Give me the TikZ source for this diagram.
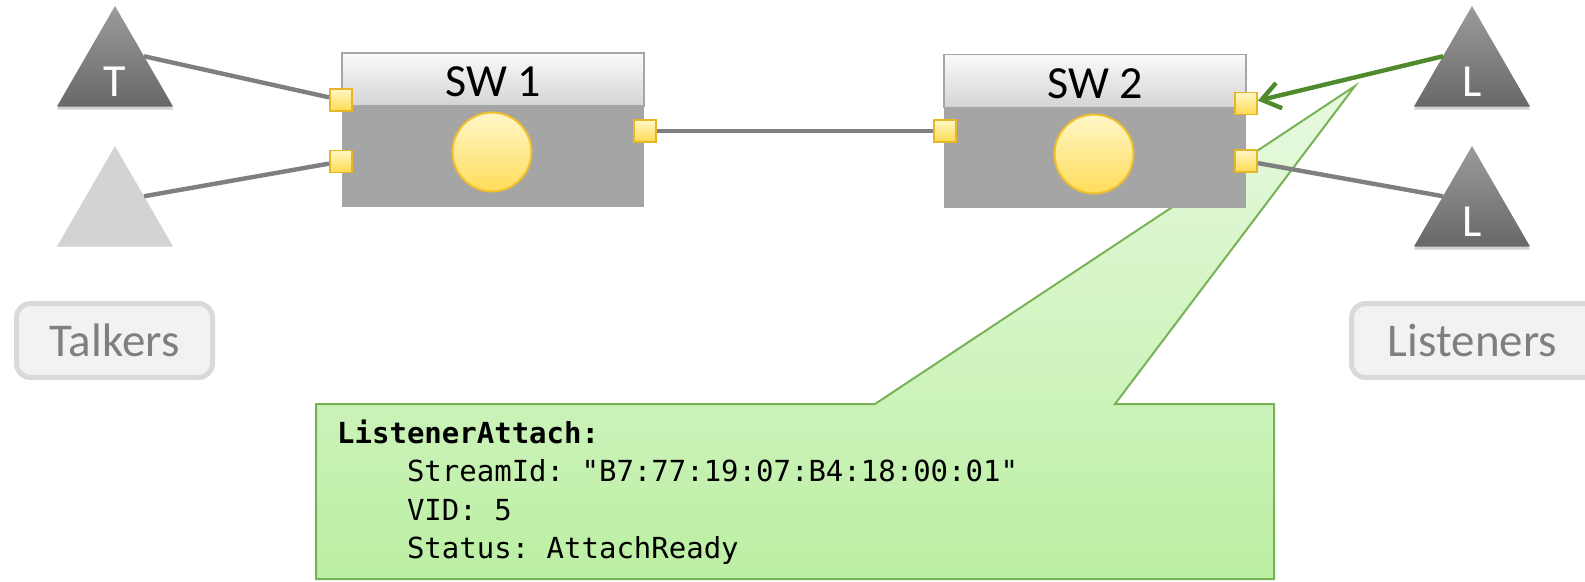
\documentclass[tikz,border=0pt]{standalone}
\usepackage{fontspec}
\setmainfont{Carlito}
\setmonofont{DejaVu Sans Mono}
\usetikzlibrary{shapes.geometric,arrows.meta,shadows}

\definecolor{trigtop}{HTML}{9B9B9B}
\definecolor{trigbot}{HTML}{686868}
\definecolor{trilight}{HTML}{D3D3D3}
\definecolor{headtop}{HTML}{FAFAFA}
\definecolor{headbot}{HTML}{D4D4D4}
\definecolor{headedge}{HTML}{A6A6A6}
\definecolor{bodygray}{HTML}{A5A5A5}
\definecolor{hubtop}{HTML}{FFF7C8}
\definecolor{hubbot}{HTML}{FFDC5A}
\definecolor{hubedge}{HTML}{F0BF2C}
\definecolor{porttop}{HTML}{FFF8C6}
\definecolor{portbot}{HTML}{FFD94F}
\definecolor{portedge}{HTML}{E5B52A}
\definecolor{linkgray}{HTML}{7F7F7F}
\definecolor{arrowgreen}{HTML}{4F8A2D}
\definecolor{tagedge}{HTML}{D9D9D9}
\definecolor{tagfill}{HTML}{F2F2F2}
\definecolor{taggray}{HTML}{7F7F7F}
\definecolor{callouttop}{HTML}{E8F9E0}
\definecolor{calloutbot}{HTML}{BBEFA3}
\definecolor{calloutedge}{HTML}{77B257}

\begin{document}
\begin{tikzpicture}[x=1pt,y=-1pt,
  tri/.style={regular polygon, regular polygon sides=3, minimum size=134pt,
    inner sep=0pt, outer sep=0pt, text=white,
    font=\fontsize{46}{46}\selectfont, text height=46pt, text depth=0pt},
  darktri/.style={tri, top color=trigtop, bottom color=trigbot,
    general shadow={fill=black, opacity=0.18, shadow yshift=-3pt}},
  lighttri/.style={tri, fill=trilight},
  swhead/.style={rectangle, draw=headedge, line width=1.5pt,
    top color=headtop, bottom color=headbot,
    minimum width=302pt, minimum height=53pt, inner sep=0pt,
    font=\fontsize{46}{46}\selectfont, text height=34pt, text depth=0pt},
  swbody/.style={rectangle, fill=bodygray, minimum width=302pt,
    minimum height=101pt, inner sep=0pt},
  hub/.style={circle, draw=hubedge, line width=2pt, top color=hubtop,
    bottom color=hubbot, minimum size=79pt, inner sep=0pt},
  port/.style={rectangle, draw=portedge, line width=1.8pt, top color=porttop,
    bottom color=portbot, minimum size=22pt, inner sep=0pt},
  link/.style={draw=linkgray, line width=4.4pt},
  arrowlink/.style={draw=arrowgreen, line width=4.4pt,
    -{Straight Barb[length=18pt,width=26pt]}},
  grouptag/.style={rectangle, rounded corners=14pt, draw=tagedge,
    line width=5pt, fill=tagfill, text=taggray,
    font=\fontsize{47}{47}\selectfont, minimum height=74pt, inner sep=0pt},
  callout/.style={draw=calloutedge, line width=2pt, top color=callouttop,
    bottom color=calloutbot, line join=miter}
]
\useasboundingbox (0,0) rectangle (1585,581);

% message callout, drawn first so that the switch sits over its pointer
\path[callout] (316,404) -- (875,404) -- (1355,86) -- (1115,404)
  -- (1274,404) -- (1274,579) -- (316,579) -- cycle;
\node[anchor=base west, inner sep=0pt,
      font=\ttfamily\fontsize{29}{38.5}\selectfont] (msg) at (337,443)
  {\vtop{\hbox{\bfseries ListenerAttach:}
         \hbox{\hspace{69.8pt}StreamId: "B7:77:19:07:B4:18:00:01"}
         \hbox{\hspace{69.8pt}VID: 5}
         \hbox{\hspace{69.8pt}Status: AttachReady}}};

% switches
\node[swbody] (b1) at (493,156.5) {};
\node[swhead] (h1) at (493,79.5) {SW 1};
\node[hub] (c1) at (492,152) {};
\node[swbody] (b2) at (1095,157.5) {};
\node[swhead] (h2) at (1095,81) {SW 2};
\node[hub] (c2) at (1094,154) {};

% switch ports
\node[port] (p1lu) at (341,100) {};
\node[port] (p1ll) at (341,161.5) {};
\node[port] (p1r)  at (645,131) {};
\node[port] (p2l)  at (945,131) {};
\node[port] (p2ru) at (1246,103.5) {};
\node[port] (p2rl) at (1246,161) {};

% end stations
\node[darktri]  (t1) at (115,73) {T};
\node[lighttri] (t2) at (115,213) {};
\node[darktri]  (l1) at (1472,73) {L};
\node[darktri]  (l2) at (1472,213) {L};

% links
\draw[link] (t1.side 3) -- (p1lu);
\draw[link] (t2.side 3) -- (p1ll);
\draw[link] (p1r) -- (p2l);
\draw[link] (p2rl) -- (l2.side 1);
\draw[arrowlink] (l1.side 1) -- (p2ru);

% group labels; the listeners box runs off the right edge
\node[grouptag, minimum width=196pt] (talkers) at (114.5,340.5) {Talkers};
\node[grouptag, minimum width=260pt] (listeners) at (1481.5,340.5)
  {\hspace*{-18pt}Listeners};
\end{tikzpicture}
\end{document}
